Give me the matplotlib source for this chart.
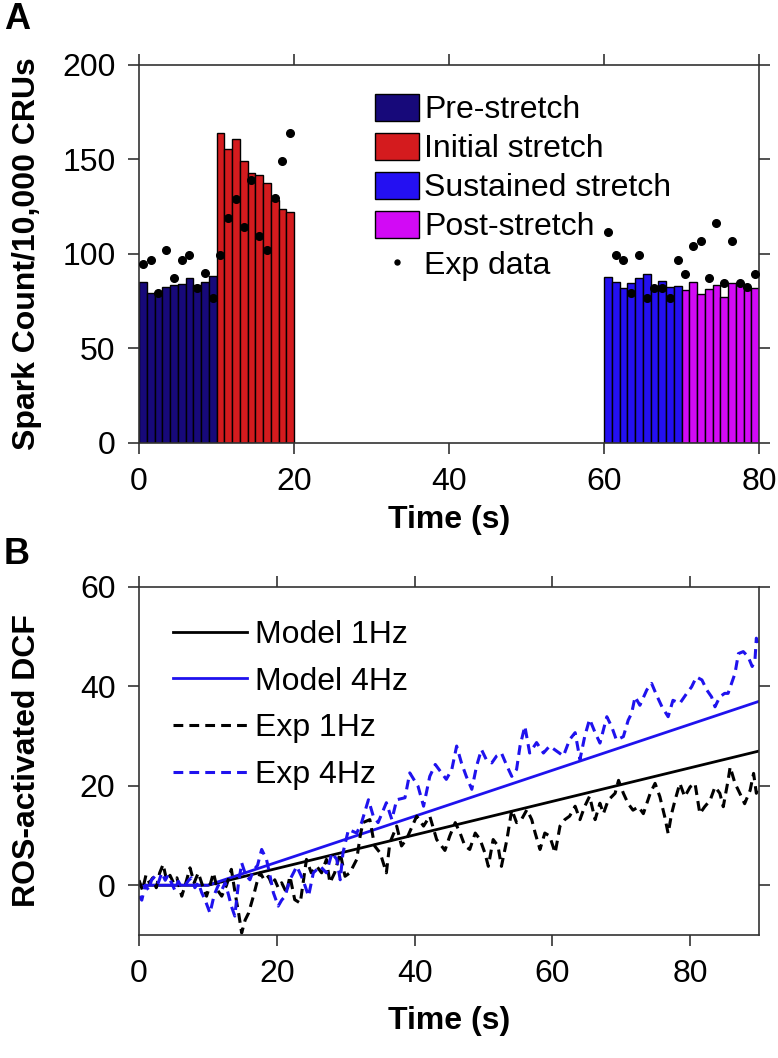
import matplotlib
matplotlib.use("Agg")
import matplotlib.pyplot as plt

plt.rcParams['font.family'] = ['Liberation Sans', 'DejaVu Sans']

# ---- panel A: spark counts per 1 s bin ----
pre_t = [0, 1, 2, 3, 4, 5, 6, 7, 8, 9]
pre_vals = [85.4, 79.2, 80.0, 82.4, 83.6, 84.0, 87.5, 83.6, 85.4, 88.5]
init_t = [10, 11, 12, 13, 14, 15, 16, 17, 18, 19]
init_vals = [164.2, 155.4, 160.7, 149.4, 142.7, 141.8, 137.7, 128.6, 124.0, 122.4]
sust_t = [60, 61, 62, 63, 64, 65, 66, 67, 68, 69]
sust_vals = [88.0, 85.4, 81.8, 84.5, 87.5, 89.4, 82.7, 85.7, 82.7, 83.1]
post_t = [70, 71, 72, 73, 74, 75, 76, 77, 78, 79]
post_vals = [81.0, 85.0, 78.8, 81.3, 83.6, 77.1, 84.8, 84.5, 81.0, 81.8]

exp_a_t = [0.5, 1.5, 2.5, 3.5, 4.5, 5.5, 6.5, 7.5, 8.5, 9.5,
           10.5, 11.5, 12.5, 13.5, 14.5, 15.5, 16.5, 17.5, 18.5, 19.5,
           60.5, 61.5, 62.5, 63.5, 64.5, 65.5, 66.5, 67.5, 68.5, 69.5,
           70.5, 71.5, 72.5, 73.5, 74.5, 75.5, 76.5, 77.5, 78.5, 79.5]
exp_a_vals = [94.5, 96.8, 79.5, 102.0, 87.1, 96.8, 99.5, 81.8, 89.8, 76.9,
              99.5, 119.2, 129.3, 114.1, 139.2, 109.5, 102.1, 129.5, 149.2, 163.9,
              111.6, 99.5, 96.8, 79.5, 99.5, 76.9, 81.8, 81.8, 76.9, 96.8,
              89.4, 104.4, 106.9, 87.1, 116.6, 84.5, 106.9, 84.8, 82.4, 89.4]

# ---- panel B: ROS-activated DCF ----
model_t = [0, 10, 90]
model_1hz = [0, 0, 27]
model_4hz = [0, 0, 37]

exp1_t = [0, 0.5, 1, 1.5, 2, 2.5, 3, 3.5, 4, 4.5, 5, 5.5, 6.2, 6.8, 7.4, 8, 8.6, 9.2, 9.8,
          10.3, 10.8, 11.4, 12, 12.7, 13.4, 14, 14.5, 14.9, 15.4, 15.9, 16.6, 17.1, 17.6,
          18.2, 18.8, 19.3, 19.7, 20.2, 20.7, 21.4, 21.9, 22.6, 23.4, 24.3, 25, 25.8, 26.5,
          27.2, 27.7, 28.4, 29.2, 29.9, 30.6, 31.6, 32.1, 32.5, 33.5, 34.2, 35, 35.9, 36.4,
          37.4, 38.1, 38.8, 40.3, 41.3, 42.2, 43.2, 43.9, 44.4, 45.1, 45.9, 46.6, 47.3, 48,
          48.8, 49.5, 50.2, 50.7, 51.4, 52.1, 52.6, 53.4, 54.1, 54.8, 55.5, 56.3, 57, 57.5,
          58.2, 58.9, 59.6, 60.4, 61.1, 61.8, 62.5, 63.3, 64, 64.7, 65.4, 66.2, 66.9, 67.4,
          68.1, 69.1, 69.6, 70.3, 71, 71.7, 72.5, 73.2, 74.2, 74.9, 75.6, 76.3, 76.8, 77.3,
          77.8, 78.5, 79.2, 80, 80.7, 81.4, 82.1, 82.9, 83.6, 84.3, 84.8, 85.5, 85.8, 86.5,
          87.2, 87.9, 88.7, 89.2, 89.6, 90]
exp1_vals = [1.0, -1.0, 2.0, 0.5, 1.5, -0.5, 2.5, 4.2, 1.0, 2.0, 0.5, 1.5, -2.2, 0.5, 3.5, 0.5,
             2.5, 0.0, -2.2, 0.0, 2.5, -1.0, -2.2, 0.0, 3.2, -2.0, -6.0, -9.6, -7.0, -5.6, -2.2,
             0.5, 2.5, 1.0, 1.8, 0.0, 1.1, -0.5, 0.5, -1.5, 1.8, -2.9, -3.6, 5.2, 2.5, 3.8, 2.5,
             5.2, 0.5, 2.5, 6.5, 1.8, 2.5, 5.2, 9.9, 12.6, 13.2, 7.9, 6.5, 2.5, 8.5, 11.9, 7.9,
             9.2, 13.9, 11.9, 13.9, 9.2, 7.9, 7.0, 9.9, 12.6, 10.5, 7.9, 7.2, 10.5, 9.2, 6.5,
             3.8, 9.2, 7.9, 3.8, 9.2, 15.2, 12.6, 13.2, 15.2, 13.2, 10.5, 7.2, 10.5, 9.9, 6.5,
             11.9, 13.2, 13.9, 15.9, 13.2, 15.9, 17.9, 13.2, 16.5, 14.4, 17.1, 18.5, 21.1, 18.5,
             16.4, 15.1, 15.8, 14.4, 18.5, 20.5, 17.8, 13.8, 10.4, 14.4, 17.1, 20.5, 17.8, 19.8,
             20.5, 14.4, 15.8, 17.1, 19.8, 18.5, 15.8, 21.1, 23.8, 20.5, 18.5, 16.4, 19.1, 22.5,
             18.5, 20.0]

exp4_t = [0, 0.4, 0.9, 1.4, 1.8, 2.3, 2.8, 3.3, 3.8, 4.2, 4.7, 5.2, 5.7, 6.2, 6.7, 7.2, 7.6,
          8.1, 8.6, 9.1, 9.6, 10.3, 10.9, 11.5, 12, 12.5, 13, 13.4, 13.9, 14.4, 14.9, 15.5,
          16.1, 16.6, 17.2, 17.8, 18.5, 19, 19.5, 20.2, 20.7, 21.2, 21.9, 22.9, 23.8, 24.6,
          25.3, 26.3, 27.2, 28, 28.7, 29.2, 29.6, 30.4, 31.6, 32.3, 33.3, 34, 34.7, 35.9, 36.7,
          37.4, 38.6, 39.3, 40.5, 41.3, 42.2, 43, 43.9, 44.6, 45.4, 46.1, 46.8, 47.5, 48.3, 49,
          49.7, 50.4, 51.2, 51.9, 52.6, 53.4, 54.1, 54.8, 55.3, 56, 56.7, 57.7, 58.7, 59.6,
          60.6, 61.6, 62.5, 63.3, 64, 64.7, 65.4, 66.2, 66.9, 67.9, 68.6, 69.3, 70.3, 71, 71.5,
          72, 72.7, 73.7, 74.4, 75.1, 75.9, 76.8, 77.5, 78.5, 79.5, 80.2, 80.9, 81.7, 82.4,
          83.1, 83.6, 84.3, 85, 85.5, 86, 86.5, 87, 87.7, 88.4, 89, 89.4, 89.6, 90]
exp4_vals = [-2.2, -3.0, 0.0, -1.0, 1.0, 1.8, 0.5, 2.5, 1.0, 2.0, 0.5, -1.0, 0.8, -0.5, 0.0,
             1.0, 1.5, -0.5, 0.5, -1.5, -3.0, -5.6, -2.0, 0.0, -1.0, 0.5, -2.0, -4.2, -6.2, 0.0,
             4.5, 2.0, 1.1, 3.0, 4.0, 7.2, 5.2, 2.0, -1.5, -4.2, -3.0, -2.2, 1.1, 3.8, 1.1, -2.2,
             2.5, 3.8, 2.5, 6.5, 5.2, 1.1, 6.5, 11.2, 10.5, 12.6, 17.2, 13.9, 12.6, 16.6, 13.2,
             17.2, 17.6, 22.6, 19.9, 15.9, 21.9, 24.3, 22.6, 21.3, 23.3, 28.0, 24.6, 21.9, 19.3,
             24.0, 27.3, 25.3, 24.6, 26.0, 26.6, 24.0, 21.9, 23.3, 28.0, 32.0, 26.6, 28.7, 26.6,
             28.0, 27.0, 26.0, 29.3, 30.7, 25.3, 30.0, 33.4, 30.7, 28.6, 33.9, 31.9, 29.2, 29.9,
             33.2, 34.6, 37.9, 36.2, 39.3, 40.6, 38.3, 35.9, 33.9, 37.2, 36.6, 38.6, 39.9, 41.9,
             41.3, 39.3, 37.9, 35.9, 37.9, 38.6, 38.6, 40.6, 42.6, 46.6, 47.0, 46.0, 44.0, 45.3,
             49.7, 48.0]

c_pre = '#17097a'
c_init = '#d41b1e'
c_sust = '#2410f2'
c_post = '#d20af5'
c_blue = '#1f12ee'

fs = 23

fig = plt.figure(figsize=(7.78, 10.58), dpi=100)
axA = fig.add_axes([0.1787, 0.5813, 0.797, 0.3573])
axB = fig.add_axes([0.1787, 0.1163, 0.797, 0.3289])

for ax in (axA, axB):
    ax.tick_params(direction='out', length=8, width=1.1, top=True, right=True,
                   labelsize=fs, colors='#222222', labelcolor='black')
    ax.tick_params(axis='x', pad=9)
    ax.tick_params(axis='y', pad=9)
    for s in ax.spines.values():
        s.set_linewidth(1.2)
        s.set_color('#333333')

# panel A
b1 = axA.bar(pre_t, pre_vals, width=1, align='edge', color=c_pre, edgecolor='black', linewidth=1)
b2 = axA.bar(init_t, init_vals, width=1, align='edge', color=c_init, edgecolor='black', linewidth=1)
b3 = axA.bar(sust_t, sust_vals, width=1, align='edge', color=c_sust, edgecolor='black', linewidth=1)
b4 = axA.bar(post_t, post_vals, width=1, align='edge', color=c_post, edgecolor='black', linewidth=1)
dots, = axA.plot(exp_a_t, exp_a_vals, 'o', color='black', ms=5.5, zorder=5)
axA.set_xlim(0, 80)
axA.set_ylim(0, 200)
axA.set_xticks([0, 20, 40, 60, 80])
axA.set_yticks([0, 50, 100, 150, 200])
axA.set_xlabel('Time (s)', fontsize=fs, fontweight='bold')
axA.set_ylabel('Spark Count/10,000 CRUs', fontsize=fs, fontweight='bold')
axA.xaxis.set_label_coords(0.5, -0.165)
axA.yaxis.set_label_coords(-0.157, 0.5)
axA.legend([b1, b2, b3, b4, dots],
           ['Pre-stretch', 'Initial stretch', 'Sustained stretch', 'Post-stretch', 'Exp data'],
           loc='upper left', bbox_to_anchor=(0.381, 0.924), frameon=False, fontsize=fs,
           borderpad=0, borderaxespad=0, handlelength=1.38, handleheight=0.95,
           handletextpad=0.15, labelspacing=0.225, numpoints=1, markerscale=0.65)

# panel B
axB.plot(model_t, model_1hz, color='black', lw=2, label='Model 1Hz')
axB.plot(model_t, model_4hz, color=c_blue, lw=2, label='Model 4Hz')
axB.plot(exp1_t, exp1_vals, color='black', lw=2.2, ls=(0, (3.2, 2.0)), label='Exp 1Hz')
axB.plot(exp4_t, exp4_vals, color=c_blue, lw=2.2, ls=(0, (3.2, 2.0)), label='Exp 4Hz')
axB.set_xlim(0, 90)
axB.set_ylim(-10, 60)
axB.set_xticks([0, 20, 40, 60, 80])
axB.set_yticks([0, 20, 40, 60])
axB.set_xlabel('Time (s)', fontsize=fs, fontweight='bold')
axB.set_ylabel('ROS-activated DCF', fontsize=fs, fontweight='bold')
axB.xaxis.set_label_coords(0.5, -0.205)
axB.yaxis.set_label_coords(-0.157, 0.5)
axB.legend(loc='upper left', bbox_to_anchor=(0.055, 0.905), frameon=False, fontsize=fs,
           borderpad=0, borderaxespad=0, handlelength=2.3, handletextpad=0.25,
           labelspacing=0.52)

fig.text(0.005, 0.998, 'A', fontsize=26, fontweight='bold', va='top', ha='left')
fig.text(0.005, 0.492, 'B', fontsize=26, fontweight='bold', va='top', ha='left')

fig.savefig('out.png', dpi=100)
